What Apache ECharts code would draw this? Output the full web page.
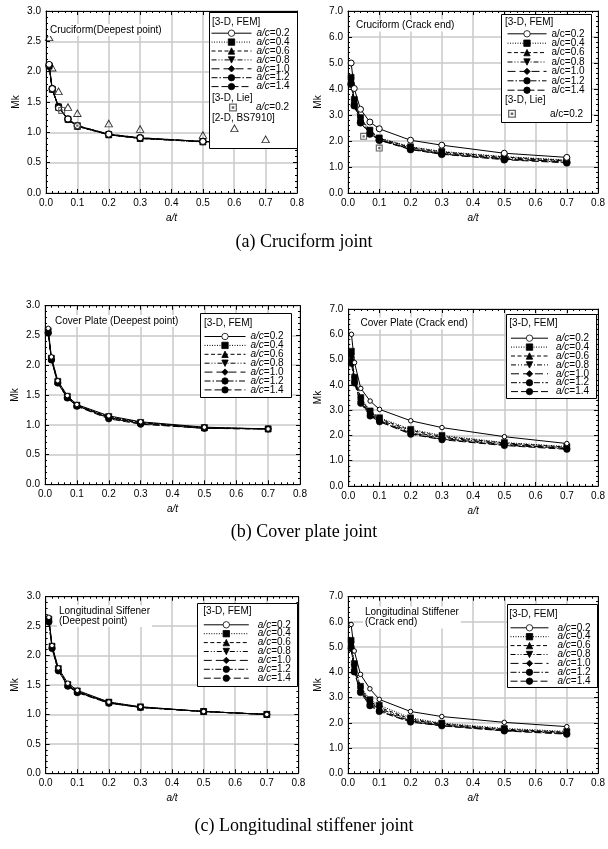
<!DOCTYPE html>
<html><head><meta charset="utf-8">
<script src="https://cdn.jsdelivr.net/npm/echarts@6/dist/echarts.min.js"></script>
<style>html,body{margin:0;padding:0;background:#fff}#c{width:608px;height:849px}</style>
</head><body><div id="c"></div><script>
// ---------- DATA ----------
const atRatios = [0.01, 0.02, 0.04, 0.07, 0.1, 0.2, 0.3, 0.5, 0.7];
const acLabels = ['0.2', '0.4', '0.6', '0.8', '1.0', '1.2', '1.4'];

const cruciformDeepest = [
  [2.12, 1.72, 1.40, 1.22, 1.11, 0.97, 0.91, 0.85, 0.83],
  [2.10, 1.71, 1.41, 1.21, 1.10, 0.96, 0.90, 0.84, 0.82],
  [2.09, 1.71, 1.42, 1.22, 1.10, 0.96, 0.90, 0.85, 0.83],
  [2.08, 1.70, 1.42, 1.21, 1.10, 0.96, 0.90, 0.845, 0.825],
  [2.08, 1.70, 1.42, 1.21, 1.10, 0.96, 0.90, 0.845, 0.825],
  [2.09, 1.71, 1.42, 1.21, 1.10, 0.96, 0.90, 0.845, 0.825],
  [2.10, 1.72, 1.42, 1.22, 1.11, 0.97, 0.91, 0.85, 0.83]
];
const cruciformCrackEnd = [
  [5.00, 4.02, 3.22, 2.73, 2.47, 2.03, 1.84, 1.53, 1.37],
  [4.45, 3.60, 2.90, 2.42, 2.12, 1.78, 1.60, 1.40, 1.27],
  [4.38, 3.56, 2.86, 2.40, 2.10, 1.76, 1.58, 1.38, 1.25],
  [4.32, 3.50, 2.82, 2.36, 2.07, 1.73, 1.55, 1.35, 1.23],
  [4.26, 3.45, 2.77, 2.32, 2.05, 1.70, 1.52, 1.32, 1.20],
  [4.22, 3.40, 2.73, 2.29, 2.04, 1.68, 1.50, 1.30, 1.18],
  [4.18, 3.36, 2.70, 2.27, 2.03, 1.67, 1.49, 1.28, 1.16]
];
const coverDeepest = [
  [2.62, 2.14, 1.74, 1.49, 1.34, 1.15, 1.05, 0.96, 0.93],
  [2.58, 2.12, 1.73, 1.48, 1.33, 1.14, 1.04, 0.95, 0.93],
  [2.57, 2.11, 1.72, 1.47, 1.33, 1.13, 1.04, 0.95, 0.93],
  [2.56, 2.10, 1.71, 1.46, 1.32, 1.12, 1.03, 0.95, 0.93],
  [2.55, 2.10, 1.71, 1.46, 1.32, 1.12, 1.03, 0.94, 0.93],
  [2.55, 2.09, 1.70, 1.45, 1.32, 1.11, 1.02, 0.94, 0.93],
  [2.54, 2.09, 1.70, 1.45, 1.31, 1.10, 1.01, 0.94, 0.93]
];
const coverCrackEnd = [
  [6.00, 4.88, 3.86, 3.36, 3.03, 2.58, 2.31, 1.95, 1.68],
  [5.33, 4.30, 3.50, 2.97, 2.70, 2.24, 2.00, 1.72, 1.56],
  [5.20, 4.25, 3.45, 2.93, 2.66, 2.20, 1.96, 1.70, 1.54],
  [5.10, 4.20, 3.40, 2.88, 2.62, 2.15, 1.92, 1.67, 1.51],
  [5.00, 4.15, 3.35, 2.84, 2.58, 2.10, 1.88, 1.64, 1.49],
  [4.92, 4.10, 3.30, 2.80, 2.56, 2.07, 1.85, 1.62, 1.47],
  [4.85, 4.07, 3.27, 2.77, 2.54, 2.05, 1.83, 1.60, 1.45]
];
const stiffenerDeepest = [
  [2.65, 2.17, 1.79, 1.53, 1.41, 1.21, 1.13, 1.05, 1.00],
  [2.62, 2.16, 1.78, 1.51, 1.40, 1.21, 1.13, 1.05, 1.00],
  [2.61, 2.15, 1.77, 1.50, 1.39, 1.20, 1.12, 1.05, 1.00],
  [2.60, 2.14, 1.76, 1.50, 1.39, 1.20, 1.12, 1.05, 1.00],
  [2.59, 2.13, 1.75, 1.49, 1.38, 1.20, 1.12, 1.05, 1.00],
  [2.58, 2.13, 1.74, 1.49, 1.38, 1.19, 1.12, 1.05, 1.00],
  [2.57, 2.12, 1.74, 1.48, 1.37, 1.19, 1.12, 1.05, 1.00]
];
const stiffenerCrackEnd = [
  [5.90, 4.85, 3.92, 3.35, 2.93, 2.45, 2.25, 2.02, 1.85],
  [5.27, 4.35, 3.45, 2.92, 2.70, 2.20, 1.99, 1.78, 1.66],
  [5.18, 4.28, 3.38, 2.86, 2.62, 2.15, 1.96, 1.75, 1.63],
  [5.10, 4.20, 3.32, 2.80, 2.56, 2.12, 1.94, 1.73, 1.61],
  [5.03, 4.12, 3.27, 2.75, 2.51, 2.08, 1.91, 1.71, 1.59],
  [4.98, 4.06, 3.23, 2.71, 2.47, 2.05, 1.89, 1.69, 1.57],
  [4.95, 4.02, 3.20, 2.68, 2.45, 2.03, 1.88, 1.68, 1.55]
];
const lieDeepestX = [0.05, 0.1];
const lieDeepestY = [1.36, 1.11];
const lieCrackX = [0.05, 0.1];
const lieCrackY = [2.18, 1.73];
const bs7910Deepest = [2.57, 2.07, 1.68, 1.42, 1.32, 1.15, 1.06, 0.96, 0.89];

// ---------- STYLE / LAYOUT ----------
const FONT = '"Liberation Sans", Arial, Helvetica, sans-serif';
const SERIF = '"Liberation Serif", "Times New Roman", serif';
const seriesLook = [
  { symbol: 'circle', dash: 'solid', open: true },
  { symbol: 'rect', dash: [1, 1.5] },
  { symbol: 'triangle', dash: [4, 2.5] },
  { symbol: 'path://M0,0L10,0L5,9Z', dash: [5, 2, 1, 2, 1, 2] },
  { symbol: 'diamond', dash: [8, 4] },
  { symbol: 'circle', dash: [6, 2, 1.5, 2] },
  { symbol: 'circle', dash: [7, 3] }
];
const sizesBig = [6, 6, 6, 6, 6, 6, 7];
const sizesSmall = [4.5, 6, 6, 6, 6, 5.5, 6.5];
const lieSymbol = 'path://M0,0H10V10H0Z M1.6,1.6V8.4H8.4V1.6Z M3.4,3.4H6.6V6.6H3.4Z';
const openTriangle = 'path://M5,0L10,9L0,9Z M5,2.3L1.6,8.1L8.4,8.1Z';

const panels = [
  { key: 'A', vals: cruciformDeepest, g: [46, 11, 251, 182], yMax: 3, yInt: 0.5, sizes: sizesBig,
    title: { text: 'Cruciform(Deepest point)', left: 48, top: 24 },
    box: [209, 12, 88, 136], leg: { L: 211, T: 28.2, W: 40, pad: 0, gap: -1.1, italic: true },
    heads: [['[3-D, FEM]', 212, 22], ['[3-D, Lie]', 212, 98.5], ['[2-D, BS7910]', 212, 118.5]],
    lie: { x: lieDeepestX, y: lieDeepestY, L: 229, T: 102.5, pad: 13 },
    bs: { y: bs7910Deepest, L: 230, T: 123 } },
  { key: 'B', vals: cruciformCrackEnd, g: [348, 11, 254, 182], yMax: 7, yInt: 1, sizes: sizesBig,
    title: { text: 'Cruciform (Crack end)', left: 354, top: 19.5 },
    box: [501, 14, 90, 108], leg: { L: 507, T: 28.8, W: 39, pad: 0, gap: -0.6, italic: false },
    heads: [['[3-D, FEM]', 505, 22], ['[3-D, Lie]', 505, 100]],
    lie: { x: lieCrackX, y: lieCrackY, L: 508, T: 108.8, pad: 28 } },
  { key: 'C', vals: coverDeepest, g: [45, 305.7, 255, 178.6], yMax: 3, yInt: 0.5, sizes: sizesSmall,
    title: { text: 'Cover Plate (Deepest point)', left: 53, top: 315 },
    box: [200, 313, 91, 84], leg: { L: 204, T: 331.5, W: 41, pad: 0, gap: -1.1, italic: true },
    heads: [['[3-D, FEM]', 204, 323.3]] },
  { key: 'D', vals: coverCrackEnd, g: [348.3, 309, 256.4, 177], yMax: 7, yInt: 1, sizes: sizesSmall,
    title: { text: 'Cover Plate (Crack end)', left: 358.5, top: 317.5 },
    box: [506, 314, 90, 84], leg: { L: 510.5, T: 333.2, W: 37, pad: 3, gap: -1.1, italic: true },
    heads: [['[3-D, FEM]', 509.3, 323.3]] },
  { key: 'E', vals: stiffenerDeepest, g: [45.7, 596.7, 252.7, 176.6], yMax: 3, yInt: 0.5, sizes: sizesSmall,
    title: { text: 'Longitudinal Siffener\n(Deepest point)', left: 57, top: 605 },
    box: [197, 603, 100, 83], leg: { L: 203.3, T: 619.8, W: 45, pad: 4, gap: -1.1, italic: true },
    heads: [['[3-D, FEM]', 203.3, 611]] },
  { key: 'F', vals: stiffenerCrackEnd, g: [348, 596.7, 255, 176.6], yMax: 7, yInt: 1, sizes: sizesSmall,
    title: { text: 'Longitudinal Stiffener\n(Crack end)', left: 363, top: 606.5 },
    box: [507, 604, 90, 83], leg: { L: 510, T: 622.8, W: 38, pad: 4, gap: -1.1, italic: true },
    heads: [['[3-D, FEM]', 509.3, 614]] }
];
const captions = [['(a) Cruciform joint', 242], ['(b) Cover plate joint', 532], ['(c) Longitudinal stiffener joint', 826]];

// ---------- BUILD ----------
const option = { animation: false, backgroundColor: '#fff', grid: [], xAxis: [], yAxis: [], series: [], legend: [], title: [], graphic: { elements: [] } };
const black = { color: '#000', width: 1 };

function richFor(italic, pad) {
  const r = {
    i: { fontStyle: italic ? 'italic' : 'normal', fontSize: 10, fontFamily: FONT, color: '#000', lineHeight: 9 },
    n: { fontSize: 10, fontFamily: FONT, color: '#000', lineHeight: 9 }
  };
  if (pad > 0) r.p = { width: pad, fontSize: 10, lineHeight: 9 };
  return r;
}
function legendBase(L, T, W, gap, italic, pad) {
  return { orient: 'vertical', left: L, top: T, padding: 0, itemGap: gap, itemWidth: W, itemHeight: 8,
    selectedMode: false, z: 6, backgroundColor: 'transparent',
    lineStyle: { width: 1 }, itemStyle: { borderWidth: 0.8 },
    textStyle: { fontSize: 10, fontFamily: FONT, color: '#000', lineHeight: 9, rich: richFor(italic, pad) } };
}

panels.forEach((p, i) => {
  option.grid.push({ left: p.g[0], top: p.g[1], width: p.g[2], height: p.g[3], containLabel: false });
  const xBase = { type: 'value', gridIndex: i, min: 0, max: 0.8, interval: 0.1,
    axisLine: { show: true, onZero: false, lineStyle: black },
    axisTick: { show: true, inside: true, length: 4, lineStyle: black },
    minorTick: { show: true, splitNumber: 5, length: 2, lineStyle: black },
    minorSplitLine: { show: false } };
  option.xAxis.push(Object.assign({}, xBase, { position: 'bottom',
    splitLine: { show: true, lineStyle: { color: '#c8c8c8', width: 1.5, type: 'solid' } },
    axisLabel: { show: true, margin: 5, fontSize: 10, color: '#000', fontFamily: FONT, showMinLabel: true, showMaxLabel: true, hideOverlap: false,
      formatter: v => v.toFixed(1) },
    name: 'a/t', nameLocation: 'middle', nameGap: 20,
    nameTextStyle: { fontSize: 10, fontStyle: 'italic', color: '#000', fontFamily: FONT } }));
  option.xAxis.push(Object.assign({}, xBase, { position: 'top', splitLine: { show: false }, axisLabel: { show: false } }));
  const yBase = { type: 'value', gridIndex: i, min: 0, max: p.yMax, interval: p.yInt,
    axisLine: { show: true, onZero: false, lineStyle: black },
    axisTick: { show: true, inside: true, length: 4, lineStyle: black },
    minorTick: { show: true, splitNumber: 5, length: 2, lineStyle: black },
    minorSplitLine: { show: false } };
  option.yAxis.push(Object.assign({}, yBase, { position: 'left',
    splitLine: { show: true, lineStyle: { color: '#c8c8c8', width: 1.5, type: 'solid' } },
    axisLabel: { show: true, margin: 5, fontSize: 10, color: '#000', fontFamily: FONT, showMinLabel: true, showMaxLabel: true, hideOverlap: false,
      formatter: v => v.toFixed(1) },
    name: 'Mk', nameLocation: 'middle', nameGap: 25,
    nameTextStyle: { fontSize: 10, color: '#000', fontFamily: FONT } }));
  option.yAxis.push(Object.assign({}, yBase, { position: 'right', splitLine: { show: false }, axisLabel: { show: false } }));

  const names = [];
  const order = [1, 2, 3, 4, 5, 6, 0];
  order.forEach(k => {
    const look = seriesLook[k];
    const name = p.key + '|' + acLabels[k];
    option.series.push({ type: 'line', name, xAxisIndex: 2 * i, yAxisIndex: 2 * i,
      data: atRatios.map((x, j) => [x, p.vals[k][j]]),
      symbol: look.symbol, symbolSize: p.sizes[k], showSymbol: true, smooth: false, z: 2,
      lineStyle: { color: '#000', width: 1, type: look.dash },
      itemStyle: look.open ? { color: '#fff', borderColor: '#000', borderWidth: 1 }
                           : { color: '#000', borderColor: '#000', borderWidth: 0.5 },
      emphasis: { disabled: true } });
  });
  acLabels.forEach(ac => names.push(p.key + '|' + ac));
  const lg = legendBase(p.leg.L, p.leg.T, p.leg.W, p.leg.gap, p.leg.italic, p.leg.pad);
  lg.data = names;
  const pad = p.leg.pad;
  lg.formatter = nm => (pad > 0 ? '{p| }' : '') + '{i|a/c}{n|=' + nm.split('|')[1] + '}';
  option.legend.push(lg);

  if (p.lie) {
    const nm = p.key + '|Lie';
    option.series.push({ type: 'scatter', name: nm, xAxisIndex: 2 * i, yAxisIndex: 2 * i,
      data: p.lie.x.map((x, j) => [x, p.lie.y[j]]), symbol: lieSymbol, symbolSize: 7, z: 3,
      itemStyle: { color: '#444' }, emphasis: { disabled: true } });
    const l2 = legendBase(p.lie.L, p.lie.T, 10, 0, p.leg.italic, p.lie.pad);
    l2.itemStyle = { borderWidth: 0 };
    l2.data = [nm];
    l2.formatter = () => '{p| }{i|a/c}{n|=0.2}';
    option.legend.push(l2);
  }
  if (p.bs) {
    const nm = p.key + '|BS';
    option.series.push({ type: 'scatter', name: nm, xAxisIndex: 2 * i, yAxisIndex: 2 * i,
      data: atRatios.map((x, j) => [x, p.bs.y[j]]), symbol: openTriangle, symbolSize: [9, 8], z: 3,
      itemStyle: { color: '#000', borderWidth: 0 }, emphasis: { disabled: true } });
    const l3 = legendBase(p.bs.L, p.bs.T, 9, 0, false, 0);
    l3.itemHeight = 8;
    l3.itemStyle = { borderWidth: 0 };
    l3.data = [nm];
    l3.formatter = () => ' ';
    option.legend.push(l3);
  }

  option.title.push({ text: p.title.text, left: p.title.left, top: p.title.top, padding: [1, 2, 1, 2],
    backgroundColor: '#fff', z: 6,
    textStyle: { fontSize: 10, fontWeight: 'normal', fontFamily: FONT, color: '#000', lineHeight: 10 } });

  option.graphic.elements.push({ type: 'rect', z: 3, shape: { x: p.box[0] + 0.5, y: p.box[1] + 0.5, width: p.box[2], height: p.box[3] },
    style: { fill: '#fff', stroke: '#000', lineWidth: 1 } });
  p.heads.forEach(h => option.graphic.elements.push({ type: 'text', z: 5, x: h[1], y: h[2],
    style: { text: h[0], fontSize: 10, fontFamily: FONT, fill: '#000', textAlign: 'left', align: 'left', textVerticalAlign: 'middle', verticalAlign: 'middle' } }));
});

captions.forEach(c => option.graphic.elements.push({ type: 'text', z: 5, x: 304, y: c[1],
  style: { text: c[0], fontSize: 18, fontFamily: SERIF, fill: '#000', textAlign: 'center', align: 'center', textVerticalAlign: 'middle', verticalAlign: 'middle' } }));

const chart = echarts.init(document.getElementById('c'), null, { renderer: 'canvas' });
chart.setOption(option);
</script></body></html>
